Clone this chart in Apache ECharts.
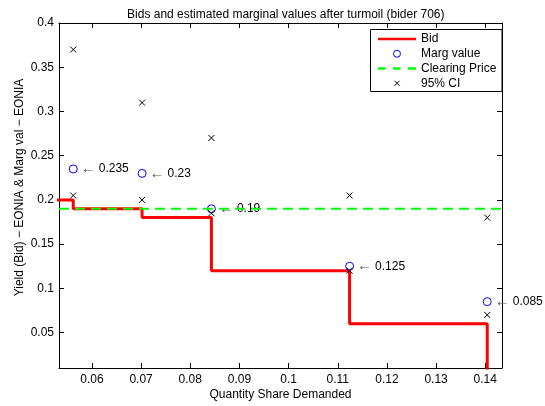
<!DOCTYPE html>
<html>
<head>
<meta charset="utf-8">
<script src="https://cdn.jsdelivr.net/npm/echarts@6/dist/echarts.min.js"></script>
<style>html,body{margin:0;padding:0;background:#fff}#c{width:545px;height:406px}</style>
</head>
<body>
<div id="c"></div>
<script>
// ---- data ----
var quantity   = [0.0562, 0.0702, 0.0843, 0.1124, 0.1404];
var margValue  = [0.235, 0.23, 0.19, 0.125, 0.085];
var ciUpper    = [0.37, 0.31, 0.27, 0.205, 0.18];
var ciLower    = [0.205, 0.2, 0.185, 0.12, 0.07];
var bidQty     = [0, 0.0562, 0.0702, 0.0843, 0.1124, 0.1404];
var bidYield   = [0.2, 0.19, 0.18, 0.12, 0.06, 0];
var clearingPrice = 0.19;
var xTicks = [0.06, 0.07, 0.08, 0.09, 0.1, 0.11, 0.12, 0.13, 0.14];
var yTicks = [0.05, 0.1, 0.15, 0.2, 0.25, 0.3, 0.35, 0.4];
var xRange = [0.0533, 0.1434];
var yRange = [0.01, 0.4];

var FONT = "'Liberation Sans', Arial, sans-serif";
var bidData = bidQty.map(function (q, i) { return [q, bidYield[i]]; });
var margData = quantity.map(function (q, i) { return [q, margValue[i]]; });
var ciData = quantity.map(function (q, i) { return [q, ciUpper[i]]; })
  .concat(quantity.map(function (q, i) { return [q, ciLower[i]]; }));
var clearData = [[xRange[0], clearingPrice], [xRange[1], clearingPrice]];

var CROSS = 'path://M0,0L10,10M0,10L10,0';
var CROSS_LEGEND = 'path://M-2,-2L-2,-2M0,0L10,10M0,10L10,0M12,12L12,12';

function axisCommon(extra) {
  var o = {
    type: 'value',
    axisLine: { show: true, onZero: false, lineStyle: { color: '#000', width: 1 } },
    splitLine: { show: false }
  };
  for (var k in extra) o[k] = extra[k];
  return o;
}
function ticks(vals) {
  return { show: true, inside: true, length: 5, lineStyle: { color: '#000' }, customValues: vals };
}

var chart = echarts.init(document.getElementById('c'), null, { renderer: 'canvas' });
chart.setOption({
  animation: false,
  backgroundColor: '#fff',
  title: {
    text: 'Bids and estimated marginal values after turmoil (bider 706)',
    left: 280.8, top: 4, textAlign: 'center',
    textStyle: { fontSize: 12, fontWeight: 'normal', color: '#000', fontFamily: FONT }
  },
  grid: { left: 59, right: 43, top: 23, bottom: 35, containLabel: false },
  graphic: [{
    type: 'rect', z: 3,
    shape: { x: 370.5, y: 29.5, width: 131.5, height: 62 },
    style: { fill: '#fff', stroke: '#000', lineWidth: 1 }
  }],
  legend: {
    z: 5,
    orient: 'vertical',
    left: 378, top: 33,
    itemWidth: 38, itemHeight: 7, itemGap: 2.75,
    padding: 0,
    symbolKeepAspect: true,
    textStyle: { fontSize: 12, color: '#000', fontFamily: FONT, lineHeight: 12, padding: [0, 0, 0, 0] },
    data: [
      { name: 'Bid', icon: 'path://M0,0H38V2.6H0Z', itemStyle: { color: '#ff0000', borderWidth: 0 } },
      { name: 'Marg value', icon: 'circle',
        itemStyle: { color: 'rgba(0,0,0,0)', borderColor: '#0000ff', borderWidth: 1 } },
      { name: 'Clearing Price', icon: 'path://M0,0H7.5V2.6H0Z M15,0H22.5V2.6H15Z M30,0H38V2.6H30Z',
        itemStyle: { color: '#00ff00', borderWidth: 0 } },
      { name: '95% CI', icon: CROSS_LEGEND,
        itemStyle: { color: 'rgba(0,0,0,0)', borderColor: '#000', borderWidth: 1 } }
    ]
  },
  xAxis: [
    axisCommon({
      min: xRange[0], max: xRange[1], position: 'bottom',
      name: 'Quantity Share Demanded', nameLocation: 'middle', nameGap: 21,
      nameMoveOverlap: false,
      nameTextStyle: { fontSize: 12, color: '#000', fontFamily: FONT },
      axisTick: ticks(xTicks),
      axisLabel: { show: true, color: '#000', fontSize: 12, fontFamily: FONT, margin: 6, customValues: xTicks }
    }),
    axisCommon({
      min: xRange[0], max: xRange[1], position: 'top',
      axisTick: ticks(xTicks),
      axisLabel: { show: false }
    })
  ],
  yAxis: [
    axisCommon({
      min: yRange[0], max: yRange[1], position: 'left',
      name: 'Yield (Bid) \u2212 EONIA & Marg val \u2212 EONIA', nameLocation: 'middle', nameGap: 33,
      nameMoveOverlap: false,
      nameTextStyle: { fontSize: 12, color: '#000', fontFamily: FONT, padding: [0, 0, 0, 16] },
      axisTick: ticks(yTicks),
      axisLabel: { show: true, color: '#000', fontSize: 12, fontFamily: FONT, margin: 5, customValues: yTicks }
    }),
    axisCommon({
      min: yRange[0], max: yRange[1], position: 'right',
      axisTick: ticks(yTicks),
      axisLabel: { show: false }
    })
  ],
  series: [
    {
      name: 'Bid', type: 'line', step: 'end', data: bidData,
      xAxisIndex: 0, yAxisIndex: 0, clip: true, z: 2,
      symbol: 'none', showSymbol: false,
      lineStyle: { color: '#ff0000', width: 3 }, itemStyle: { color: '#ff0000' }
    },
    {
      name: 'Marg value', type: 'scatter', data: margData, z: 2,
      symbol: 'circle', symbolSize: 8,
      itemStyle: { color: 'rgba(0,0,0,0)', borderColor: '#0000ff', borderWidth: 1, opacity: 1 },
      label: {
        show: true, position: 'right', distance: 3,
        fontSize: 12, color: '#000', fontFamily: FONT,
        formatter: function (p) { return '{a|\u2190}' + p.value[1]; },
        rich: { a: { color: '#555', fontSize: 15, fontFamily: FONT, padding: [0, 3, 0, 0] } }
      }
    },
    {
      name: 'Clearing Price', type: 'line', data: clearData, z: 3,
      symbol: 'none', showSymbol: false,
      lineStyle: { color: '#00ff00', width: 2, type: [10, 6] }, itemStyle: { color: '#00ff00' }
    },
    {
      name: '95% CI', type: 'scatter', data: ciData, z: 2,
      symbol: CROSS, symbolSize: 6,
      itemStyle: { color: 'rgba(0,0,0,0)', borderColor: '#000', borderWidth: 1, opacity: 1 }
    }
  ]
});
</script>
</body>
</html>
